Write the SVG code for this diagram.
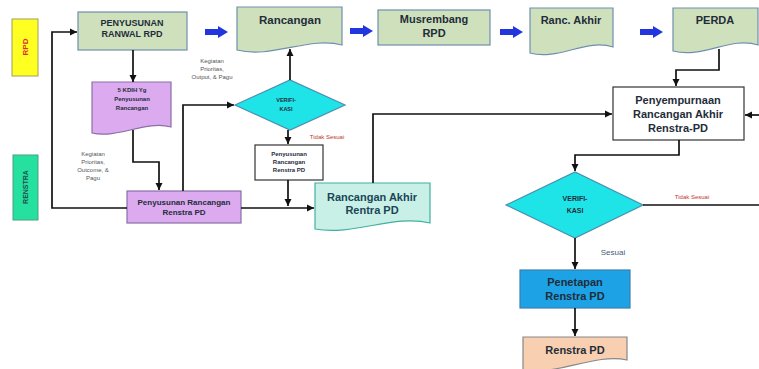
<svg xmlns="http://www.w3.org/2000/svg" width="759" height="369" viewBox="0 0 759 369">
<defs>
<marker id="ah" markerWidth="8" markerHeight="8" refX="7" refY="4" orient="auto" markerUnits="userSpaceOnUse"><path d="M0,0.5 L7,4 L0,7.5 z" fill="#111"/></marker>
<style>
text{font-family:"Liberation Sans",Arial,sans-serif;text-anchor:middle}
.b{font-weight:bold;fill:#1f2d3a}
.green{fill:#cfe0bc;stroke:#6f8fae;stroke-width:1.2}
.purple{fill:#dcaaee;stroke:#8a6fa8;stroke-width:1.2}
.dia{fill:#1ee4e8;stroke:#4a8fb0;stroke-width:1.2}
.white{fill:#fff;stroke:#333;stroke-width:1.2}
.barrow{fill:#2236e0}
.con path{fill:none;stroke:#111;stroke-width:1.7;marker-end:url(#ah)}
.con path.n{marker-end:none}
.note{font-size:6px;fill:#555}
.red{font-size:6px;fill:#c0392b}
</style>
</defs>
<rect width="759" height="369" fill="#fff"/>

<g id="rpd-label">
<rect x="12" y="19" width="26" height="57" fill="#ffff22" stroke="#a0a060"/>
<text transform="translate(28,47) rotate(-90)" font-size="8" font-weight="bold" fill="#e03030">RPD</text>
</g>
<g id="renstra-label">
<rect x="13" y="155" width="25" height="65" fill="#26e0a0" stroke="#4aa080"/>
<text transform="translate(28,187) rotate(-90)" font-size="7" font-weight="bold" fill="#1d4d4d">RENSTRA</text>
</g>

<g id="ranwal">
<rect class="green" x="78" y="12" width="109" height="38"/>
<text class="b" x="132" y="26" font-size="9">PENYUSUNAN</text>
<text class="b" x="132" y="37" font-size="9">RANWAL RPD</text>
</g>
<g id="rancangan">
<path class="green" d="M237,7 H342 V45 C309,36 272,59 237,50 Z"/>
<text class="b" x="290" y="24" font-size="11.5">Rancangan</text>
</g>
<g id="musrembang">
<rect class="green" x="378" y="10" width="112" height="35"/>
<text class="b" x="434" y="23" font-size="11">Musrembang</text>
<text class="b" x="434" y="37" font-size="11">RPD</text>
</g>
<g id="ranc-akhir">
<path class="green" d="M530,8 H613 V47 C587,38 558,61 530,53 Z"/>
<text class="b" x="571" y="24" font-size="11">Ranc. Akhir</text>
</g>
<g id="perda">
<path class="green" d="M673,8 H758 V45 C731,36 703,59 673,51 Z"/>
<text class="b" x="715" y="24" font-size="11">PERDA</text>
</g>

<g id="blue-arrows">
<path class="barrow" d="M205,29 H218 V26 L228,32 L218,38 V35 H205 Z"/>
<path class="barrow" d="M350,28 H363 V25 L373,31 L363,37 V34 H350 Z"/>
<path class="barrow" d="M500,29 H513 V26 L523,32 L513,38 V35 H500 Z"/>
<path class="barrow" d="M640,29 H653 V26 L663,32 L653,38 V35 H640 Z"/>
</g>

<g id="kdih">
<path class="purple" d="M92,82 H171 V127 C146,120 118,139 92,133 Z"/>
<text class="b" x="132" y="92" font-size="6">5 KDIH Yg</text>
<text class="b" x="132" y="101" font-size="6">Penyusunan</text>
<text class="b" x="132" y="110" font-size="6">Rancangan</text>
</g>
<g id="penyusunan-renstra">
<rect class="purple" x="127" y="191" width="114" height="32"/>
<text class="b" x="184" y="205" font-size="8">Penyusunan Rancangan</text>
<text class="b" x="184" y="215" font-size="8">Renstra PD</text>
</g>
<g id="verifikasi1">
<path class="dia" d="M235,105 L290,80 L345,105 L290,130 Z"/>
<text class="b" x="286" y="102" font-size="5.5">VERIFI-</text>
<text class="b" x="286" y="111" font-size="5.5">KASI</text>
</g>
<g id="penyusunan-small">
<rect class="white" x="255" y="145" width="68" height="35"/>
<text class="b" x="289" y="156" font-size="6">Penyusunan</text>
<text class="b" x="289" y="164" font-size="6">Rancangan</text>
<text class="b" x="289" y="172" font-size="6">Renstra PD</text>
</g>
<g id="rancangan-akhir-renstra">
<path d="M315,183 H430 V223 C394,214 354,236 315,229 Z" fill="#c8f0e6" stroke="#40b0a0" stroke-width="1.2"/>
<text x="372" y="201" font-size="11" font-weight="bold" fill="#1a4656">Rancangan Akhir</text>
<text x="372" y="214" font-size="11" font-weight="bold" fill="#1a4656">Rentra PD</text>
</g>
<g id="penyempurnaan">
<rect class="white" x="613" y="87" width="131" height="53"/>
<text class="b" x="678" y="104" font-size="11">Penyempurnaan</text>
<text class="b" x="678" y="118" font-size="11">Rancangan Akhir</text>
<text class="b" x="678" y="132" font-size="11">Renstra-PD</text>
</g>
<g id="verifikasi2">
<path class="dia" d="M506,205 L575,172 L643,205 L575,238 Z"/>
<text class="b" x="575" y="201" font-size="7">VERIFI-</text>
<text class="b" x="575" y="213" font-size="7">KASI</text>
</g>
<g id="penetapan">
<rect x="520" y="270" width="110" height="38" fill="#1ea2e6" stroke="#3a7fb0" stroke-width="1.2"/>
<text class="b" x="575" y="286" font-size="11">Penetapan</text>
<text class="b" x="575" y="300" font-size="11">Renstra PD</text>
</g>
<g id="renstra-pd">
<path d="M523,337 H627 V360 C595,353 556,376 523,370 Z" fill="#f8cfb0" stroke="#888" stroke-width="1.2"/>
<text class="b" x="575" y="354" font-size="11">Renstra PD</text>
</g>

<g id="connectors" class="con">
<path d="M133,50 V82"/>
<path d="M133,130 V162 H159 V190"/>
<path d="M127,208 H52 V32 H77"/>
<path d="M183,191 V105 H234"/>
<path d="M290,80 V49"/>
<path d="M288,130 V144"/>
<path d="M288,180 V206"/>
<path d="M241,208 H314"/>
<path d="M373,183 V114 H612"/>
<path d="M719,49 V70 H676 V86"/>
<path d="M762,115 H745"/>
<path d="M679,140 V155 H575 V171"/>
<path class="n" d="M643,205 H762"/>
<path d="M575,238 V269"/>
<path d="M575,308 V336"/>
</g>

<g id="labels">
<text class="note" x="212" y="63">Kegiatan</text>
<text class="note" x="212" y="71">Prioritas,</text>
<text class="note" x="212" y="79">Output, &amp; Pagu</text>
<text class="note" x="93" y="156">Kegiatan</text>
<text class="note" x="93" y="164">Prioritas,</text>
<text class="note" x="93" y="172">Outcome, &amp;</text>
<text class="note" x="93" y="180">Pagu</text>
<text class="red" x="327" y="139">Tidak Sesuai</text>
<text class="red" x="692" y="199">Tidak Sesuai</text>
<text x="613" y="255" font-size="8" fill="#4a5a7a">Sesuai</text>
</g>
</svg>
